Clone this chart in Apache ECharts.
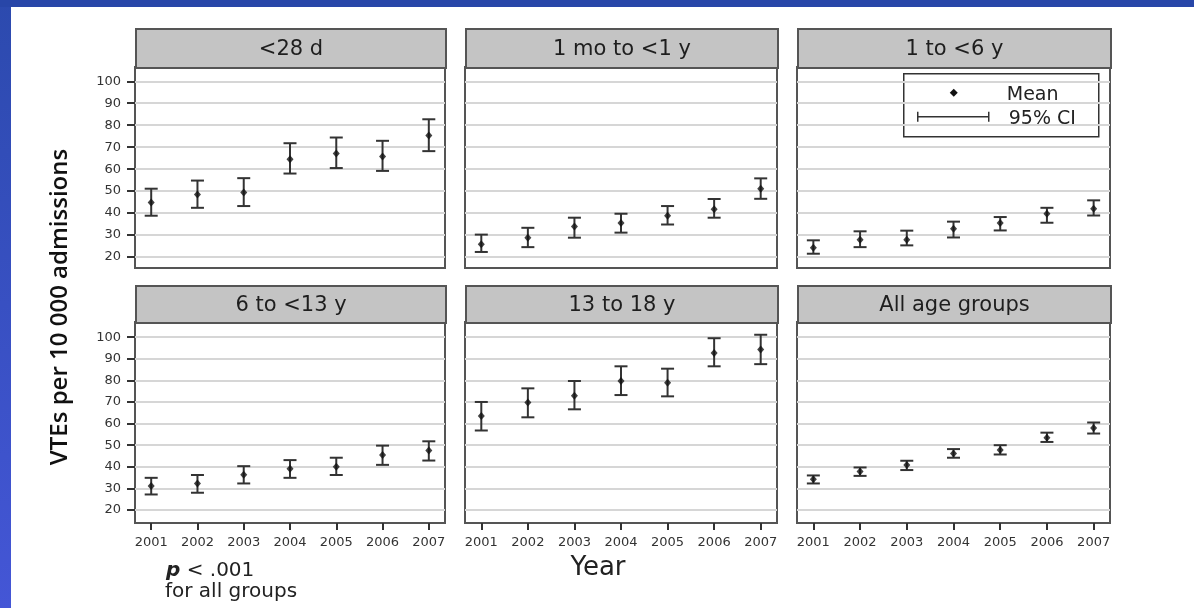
<!DOCTYPE html>
<html>
<head>
    <meta charset="utf-8">
    <title>VTEs per 10 000 admissions</title>
    <script src="https://cdn.jsdelivr.net/npm/echarts@6/dist/echarts.min.js"></script>
    <style>
        html, body { margin: 0; padding: 0; background: #fff; }
    </style>
</head>
<body>
    <div id="main" style="width: 1194px;height:608px;"></div>

    <script type="text/javascript">
        var years = [2001, 2002, 2003, 2004, 2005, 2006, 2007];
        var yTicks = [20, 30, 40, 50, 60, 70, 80, 90, 100];
        var panelTitles = ['<28 d', '1 mo to <1 y', '1 to <6 y', '6 to <13 y', '13 to 18 y', 'All age groups'];

        // <28 d
        var neoMean = [44.8, 48.5, 49.4, 64.5, 67.1, 65.8, 75.3];
        var neoLow  = [38.8, 42.4, 43.2, 58.0, 60.5, 59.2, 68.2];
        var neoHigh = [51.1, 54.8, 55.9, 71.8, 74.4, 72.9, 82.7];
        // 1 mo to <1 y
        var infMean = [25.8, 28.8, 33.9, 35.5, 38.8, 41.8, 51.1];
        var infLow  = [22.3, 24.5, 28.8, 31.1, 34.8, 37.9, 46.5];
        var infHigh = [30.2, 33.3, 37.9, 39.7, 43.2, 46.4, 55.8];
        // 1 to <6 y
        var tdlMean = [24.2, 27.9, 27.9, 32.9, 35.5, 39.7, 42.0];
        var tdlLow  = [21.5, 24.5, 25.3, 28.9, 32.1, 35.6, 38.9];
        var tdlHigh = [27.6, 31.7, 32.0, 36.1, 38.2, 42.4, 45.8];
        // 6 to <13 y
        var chdMean = [31.1, 32.3, 36.3, 39.1, 40.0, 45.5, 47.5];
        var chdLow  = [27.2, 28.0, 32.3, 34.9, 36.2, 40.9, 42.9];
        var chdHigh = [34.9, 36.2, 40.3, 43.1, 44.2, 49.8, 51.8];
        // 13 to 18 y
        var teenMean = [63.5, 69.7, 72.9, 79.7, 78.9, 92.6, 94.3];
        var teenLow  = [56.8, 62.9, 66.6, 73.2, 72.6, 86.5, 87.5];
        var teenHigh = [70.0, 76.3, 79.7, 86.5, 85.4, 99.5, 101.1];
        // All age groups
        var allMean = [34.2, 37.8, 40.8, 46.2, 47.8, 53.5, 58.0];
        var allLow  = [32.3, 35.8, 38.5, 44.2, 45.7, 51.5, 55.4];
        var allHigh = [36.0, 39.7, 42.8, 48.2, 50.0, 55.8, 60.5];

        var panelData = [
            [neoMean, neoLow, neoHigh],
            [infMean, infLow, infHigh],
            [tdlMean, tdlLow, tdlHigh],
            [chdMean, chdLow, chdHigh],
            [teenMean, teenLow, teenHigh],
            [allMean, allLow, allHigh]
        ];

        var dom = document.getElementById('main');
        var myChart = echarts.init(dom, null, { renderer: 'canvas' });

        var colLeft = [135, 465, 797];
        var colWidth = [310, 312, 313];
        var rowTop = [67, 322];
        var headTop = [28, 285];
        var plotHeight = 201;
        var tickFont = 'DejaVu Sans';

        function renderErrorBar(params, api) {
            var x = api.value(0);
            var lo = api.coord([x, api.value(1)]);
            var hi = api.coord([x, api.value(2)]);
            var cap = 6.5;
            var style = { stroke: '#333', lineWidth: 2, fill: null };
            return {
                type: 'group',
                children: [
                    { type: 'line', shape: { x1: lo[0], y1: lo[1], x2: hi[0], y2: hi[1] }, style: style },
                    { type: 'line', shape: { x1: lo[0] - cap, y1: lo[1], x2: lo[0] + cap, y2: lo[1] }, style: style },
                    { type: 'line', shape: { x1: hi[0] - cap, y1: hi[1], x2: hi[0] + cap, y2: hi[1] }, style: style }
                ]
            };
        }

        var grids = [], xAxes = [], yAxes = [], series = [], graphics = [];

        // blue slide frame
        graphics.push({
            type: 'rect', left: 0, top: 0, z: -10,
            shape: { width: 11, height: 608 },
            style: {
                fill: new echarts.graphic.LinearGradient(0, 0, 0, 1, [
                    { offset: 0, color: '#2c4aae' },
                    { offset: 1, color: '#4456d6' }
                ])
            }
        });
        graphics.push({
            type: 'rect', left: 0, top: 0, z: -10,
            shape: { width: 1194, height: 7 },
            style: { fill: '#2846a8' }
        });

        panelTitles.forEach(function (title, i) {
            var row = Math.floor(i / 3), col = i % 3;
            var d = panelData[i];
            grids.push({
                left: colLeft[col], top: rowTop[row],
                width: colWidth[col], height: plotHeight,
                show: true, borderColor: '#555', borderWidth: 2, backgroundColor: '#fff'
            });
            xAxes.push({
                gridIndex: i, type: 'value',
                min: 2000.65, max: 2007.35,
                splitLine: { show: false },
                axisLine: { show: false },
                axisTick: {
                    show: row === 1, customValues: years, length: 7,
                    lineStyle: { color: '#333', width: 2 }
                },
                axisLabel: {
                    show: row === 1, customValues: years, margin: 13,
                    color: '#333', fontFamily: tickFont, fontSize: 13,
                    formatter: function (v) { return String(v); }
                }
            });
            yAxes.push({
                gridIndex: i, type: 'value',
                min: row === 0 ? 15 : 14, max: row === 0 ? 106.5 : 107,
                splitLine: { show: false },
                axisLine: { show: false },
                axisTick: {
                    show: col === 0, customValues: yTicks, length: 8,
                    lineStyle: { color: '#333', width: 2 }
                },
                axisLabel: {
                    show: col === 0, customValues: yTicks, margin: 14,
                    color: '#333', fontFamily: tickFont, fontSize: 13
                }
            });
            series.push({
                type: 'scatter', xAxisIndex: i, yAxisIndex: i, z: 4,
                symbol: 'diamond', symbolSize: [7, 8],
                itemStyle: { color: '#111' },
                silent: true,
                data: years.map(function (y, k) { return [y, d[0][k]]; }),
                markLine: {
                    silent: true, symbol: 'none', z: 1,
                    label: { show: false },
                    lineStyle: { color: '#d6d6d6', width: 2, type: 'solid' },
                    data: yTicks.map(function (t) { return { yAxis: t }; })
                }
            });
            series.push({
                type: 'custom', xAxisIndex: i, yAxisIndex: i, z: 3,
                silent: true,
                renderItem: renderErrorBar,
                encode: { x: 0, y: [1, 2] },
                data: years.map(function (y, k) { return [y, d[1][k], d[2][k]]; })
            });
            // panel header strip
            graphics.push({
                type: 'group', left: colLeft[col], top: headTop[row],
                children: [{
                    type: 'rect',
                    shape: { x: 0, y: 0, width: colWidth[col], height: rowTop[row] - headTop[row] },
                    style: { fill: '#c4c4c4', stroke: '#555', lineWidth: 2 }
                }, {
                    type: 'text',
                    x: colWidth[col] / 2, y: (rowTop[row] - headTop[row]) / 2 + 1,
                    style: {
                        text: title, fill: '#1e1e1e', font: '21px "DejaVu Sans"',
                        align: 'center', verticalAlign: 'middle'
                    }
                }]
            });
        });

        // legend box inside the "1 to <6 y" panel
        graphics.push({
            type: 'group', left: 903, top: 73, z: 20,
            children: [
                { type: 'rect', shape: { x: 0, y: 0, width: 195, height: 63 }, style: { fill: '#fff', stroke: '#333', lineWidth: 1.5 } },
                { type: 'polygon', shape: { points: [[50, 15], [54, 19], [50, 23], [46, 19]] }, style: { fill: '#111' } },
                { type: 'line', shape: { x1: 14, y1: 43, x2: 85, y2: 43 }, style: { stroke: '#333', lineWidth: 1.5 } },
                { type: 'line', shape: { x1: 14, y1: 38, x2: 14, y2: 48 }, style: { stroke: '#333', lineWidth: 1.5 } },
                { type: 'line', shape: { x1: 85, y1: 38, x2: 85, y2: 48 }, style: { stroke: '#333', lineWidth: 1.5 } },
                { type: 'text', x: 103, y: 21, style: { text: 'Mean', fill: '#222', font: '19px "DejaVu Sans"', verticalAlign: 'middle' } },
                { type: 'text', x: 105, y: 45, style: { text: '95% CI', fill: '#222', font: '19px "DejaVu Sans"', verticalAlign: 'middle' } }
            ]
        });

        // axis titles and note
        graphics.push({
            type: 'text', x: 60, y: 307, rotation: Math.PI / 2,
            style: {
                text: 'VTEs per 10 000 admissions', fill: '#111',
                font: '600 24px "Open Sans"', align: 'center', verticalAlign: 'middle'
            }
        });
        graphics.push({
            type: 'text', x: 598, y: 568,
            style: { text: 'Year', fill: '#222', font: '26px "DejaVu Sans"', align: 'center', verticalAlign: 'middle' }
        });
        graphics.push({
            type: 'text', x: 166, y: 571,
            style: {
                text: '{p|p} < .001', fill: '#222', font: '20px "DejaVu Sans"', verticalAlign: 'middle',
                rich: { p: { font: 'italic bold 20px "DejaVu Sans"', fill: '#222' } }
            }
        });
        graphics.push({
            type: 'text', x: 165, y: 592,
            style: { text: 'for all groups', fill: '#222', font: '20px "DejaVu Sans"', verticalAlign: 'middle' }
        });

        var option = {
            animation: false,
            backgroundColor: '#fff',
            grid: grids,
            xAxis: xAxes,
            yAxis: yAxes,
            series: series,
            graphic: graphics
        };

        if (option && typeof option === 'object') {
            myChart.setOption(option, true);
        }
    </script>
</body>
</html>
